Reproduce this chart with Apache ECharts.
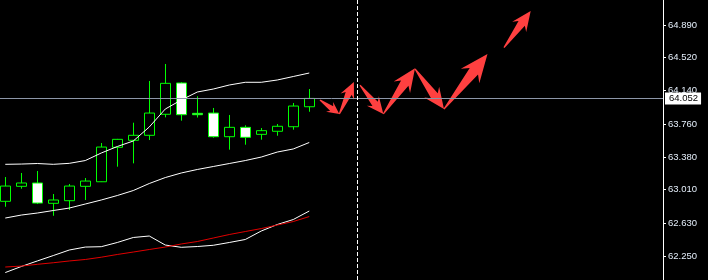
<!DOCTYPE html>
<html>
<head>
<meta charset="utf-8">
<style>
html,body{margin:0;padding:0;background:#000;}
#c{width:708px;height:280px;}
</style>
<script src="https://cdn.jsdelivr.net/npm/echarts@6/dist/echarts.min.js"></script>
</head>
<body>
<div id="c"></div>
<script>
// ---- data ----
const barIndex = [0,1,2,3,4,5,6,7,8,9,10,11,12,13,14,15,16,17,18,19];
const openP  = [62.878,63.049,63.087,62.855,62.885,63.049,63.101,63.494,63.574,63.631,63.871,64.228,63.882,63.885,63.615,63.722,63.642,63.677,63.729,63.957];
const closeP = [63.052,63.087,62.858,62.893,63.052,63.109,63.497,63.585,63.631,63.885,64.224,63.866,63.866,63.615,63.722,63.608,63.684,63.734,63.965,64.052];
const lowP   = [62.816,63.022,62.847,62.713,62.779,62.893,63.098,63.273,63.311,63.577,63.836,63.798,63.834,63.604,63.467,63.524,63.581,63.626,63.695,63.900];
const highP  = [63.155,63.201,63.224,62.961,63.075,63.144,63.543,63.590,63.775,64.251,64.445,64.236,64.076,63.943,63.863,63.745,63.714,63.760,64.000,64.159];

const bandUpper  = [63.300,63.303,63.309,63.300,63.311,63.343,63.429,63.503,63.566,63.726,63.931,64.034,64.125,64.159,64.205,64.236,64.236,64.262,64.302,64.342];
const bandMiddle = [62.687,62.721,62.744,62.773,62.801,62.847,62.893,62.944,63.001,63.081,63.149,63.201,63.241,63.275,63.309,63.343,63.383,63.440,63.475,63.549];
const bandLower  = [62.065,62.134,62.197,62.259,62.322,62.356,62.360,62.408,62.465,62.482,62.379,62.353,62.362,62.376,62.408,62.442,62.539,62.613,62.670,62.767];
const redMA      = [62.128,62.139,62.159,62.177,62.197,62.214,62.240,62.271,62.299,62.328,62.356,62.391,62.419,62.459,62.499,62.533,62.567,62.607,62.647,62.704];

const arrowFromIdx   = [19.67,20.88,22.17,23.63,25.61,27.42,31.17];
const arrowFromPrice = [64.034,63.874,64.205,63.874,64.388,63.931,64.631];
const arrowToIdx     = [20.88,21.79,23.63,25.61,27.42,30.14,32.84];
const arrowToPrice   = [63.874,64.239,63.874,64.396,63.931,64.559,65.049];

const tickValues = [62.250,62.630,63.010,63.380,63.760,64.140,64.520,64.890];
const currentPrice = 64.052;
const dividerIdx = 22;

// ---- build ----
const candleData = barIndex.map((x,i)=>[x, openP[i], closeP[i], lowP[i], highP[i]]);
const lineData = arr => barIndex.map((x,i)=>[x, arr[i]]);
const arrowData = arrowFromIdx.map((x,i)=>[x, arrowFromPrice[i], arrowToIdx[i], arrowToPrice[i]]);

const chart = echarts.init(document.getElementById('c'), null, {renderer:'canvas'});
const option = {
  backgroundColor:'#000',
  animation:false,
  grid:{left:0,right:45,top:0,bottom:0},
  xAxis:{type:'value',min:-0.33,max:41.11,show:false},
  yAxis:{
    type:'value',position:'right',min:61.980,max:65.175,
    axisLine:{show:true,onZero:false,lineStyle:{color:'#ffffff',width:1}},
    axisTick:{show:true,length:3,customValues:tickValues,lineStyle:{color:'#ffffff'}},
    axisLabel:{show:true,customValues:tickValues,margin:5,color:'#e4eefa',
      fontFamily:'Liberation Sans',fontSize:9.5,formatter:v=>v.toFixed(3)},
    splitLine:{show:false}
  },
  series:[
    {
      type:'candlestick',
      data:candleData,
      barWidth:10,
      z:2,
      itemStyle:{color:'#000000',color0:'#ffffff',borderColor:'#00ff00',borderColor0:'#00ff00',borderWidth:1},
      markLine:{
        silent:true,symbol:['none','none'],animation:false,
        data:[
          {yAxis:currentPrice,lineStyle:{color:'#8c96a8',type:'solid',width:1},
           label:{show:true,position:'end',distance:2,formatter:()=>currentPrice.toFixed(3),
             backgroundColor:'#ffffff',color:'#000000',padding:[1,3,1,4],
             fontFamily:'Liberation Sans',fontSize:9.5}},
          {xAxis:dividerIdx,lineStyle:{color:'#ffffff',type:[4,2],width:1},label:{show:false}}
        ]
      }
    },
    {type:'line',data:lineData(bandUpper),showSymbol:false,z:3,lineStyle:{color:'#ffffff',width:1}},
    {type:'line',data:lineData(bandMiddle),showSymbol:false,z:3,lineStyle:{color:'#ffffff',width:1}},
    {type:'line',data:lineData(bandLower),showSymbol:false,z:3,lineStyle:{color:'#ffffff',width:1}},
    {type:'line',data:lineData(redMA),showSymbol:false,z:3,lineStyle:{color:'#e00000',width:1}},
    {
      type:'custom',z:4,data:arrowData,encode:{x:[0,2],y:[1,3]},
      renderItem:function(params,api){
        const p1 = api.coord([api.value(0),api.value(1)]);
        const p2 = api.coord([api.value(2),api.value(3)]);
        const dx=p2[0]-p1[0], dy=p2[1]-p1[1];
        const L=Math.hypot(dx,dy);
        const ux=dx/L, uy=dy/L, nx=-uy, ny=ux;
        const headLen=0.27*L+3, headW=0.25*L+6, shaftW=headW*0.45, sweep=headLen*0.28;
        const bx=p2[0]-ux*headLen, by=p2[1]-uy*headLen;
        const pts=[
          [p1[0]+nx*0.6, p1[1]+ny*0.6],
          [bx+nx*shaftW/2, by+ny*shaftW/2],
          [bx-ux*sweep+nx*headW/2, by-uy*sweep+ny*headW/2],
          p2,
          [bx-ux*sweep-nx*headW/2, by-uy*sweep-ny*headW/2],
          [bx-nx*shaftW/2, by-ny*shaftW/2],
          [p1[0]-nx*0.6, p1[1]-ny*0.6]
        ];
        return {type:'polygon',shape:{points:pts},style:{fill:'#ff4040'}};
      }
    }
  ]
};
chart.setOption(option);
</script>
</body>
</html>
